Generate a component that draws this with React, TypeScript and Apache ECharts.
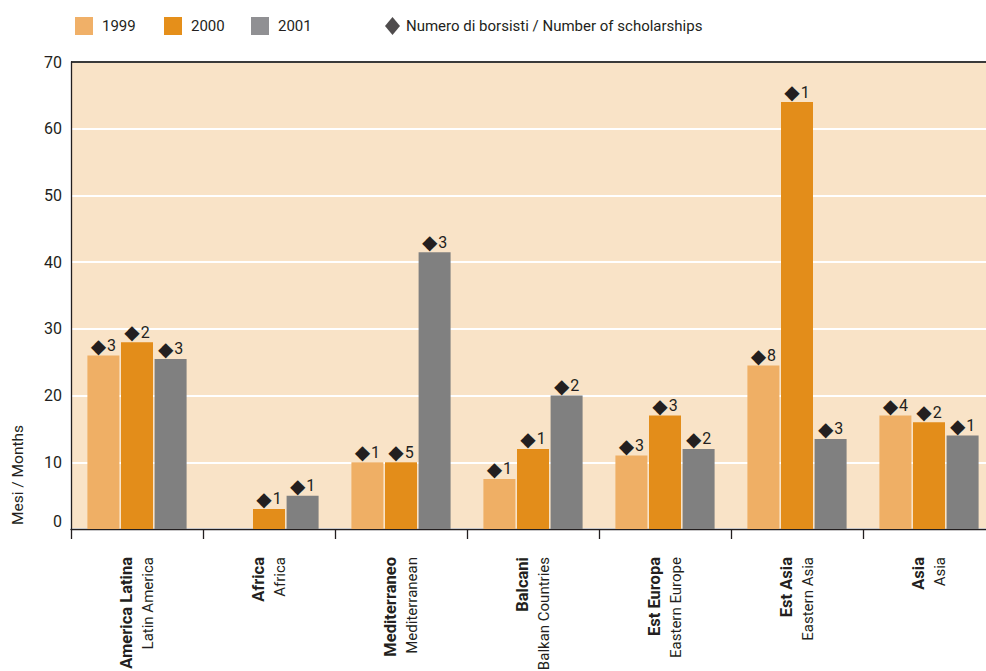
import React, { useEffect, useRef } from "react";
import * as echarts from "echarts";

const categoriesIt = ["America Latina", "Africa", "Mediterraneo", "Balcani", "Est Europa", "Est Asia", "Asia"];
const categoriesEn = ["Latin America", "Africa", "Mediterranean", "Balkan Countries", "Eastern Europe", "Eastern Asia", "Asia"];
const years = ["1999", "2000", "2001"];
const months1999 = [26, null, 10, 7.5, 11, 24.5, 17];
const months2000 = [28, 3, 10, 12, 17, 64, 16];
const months2001 = [25.5, 5, 41.5, 20, 12, 13.5, 14];
const scholars1999 = [3, null, 1, 1, 3, 8, 4];
const scholars2000 = [2, 1, 5, 1, 3, 1, 2];
const scholars2001 = [3, 1, 3, 2, 2, 3, 1];
const yMin = 0;
const yMax = 70;
const yInterval = 10;
const scholarsLegend = "Numero di borsisti / Number of scholarships";
const yAxisName = "Mesi / Months";

const FONT = "Roboto, 'DejaVu Sans', sans-serif";
const TEXT = "#231F20";
const colors = ["#EFAF65", "#E38D1A", "#808080"];
const legendColors = ["#F0B068", "#E58F1A", "#909093"];

export default function App() {
  const ref = useRef<HTMLDivElement>(null);

  useEffect(() => {
    if (!ref.current) return;
    const chart = echarts.init(ref.current, null, { renderer: "svg" });
    const months = [months1999, months2000, months2001];
    const scholars = [scholars1999, scholars2000, scholars2001];
    const cats = categoriesIt.map((c, i) => c + "\n" + categoriesEn[i]);

    const barSeries = years.map((y, si) => ({
      name: y,
      type: "bar",
      data: months[si],
      barWidth: 32,
      barGap: "5%",
      itemStyle: { color: colors[si] },
      label: {
        show: true,
        position: "top",
        distance: 0,
        formatter: (p: any) => {
          const s = scholars[si][p.dataIndex];
          return s == null ? "" : `{d|◆}{n|${s}}`;
        },
        rich: {
          d: { fontSize: 20, color: TEXT, fontFamily: "'DejaVu Sans', sans-serif" },
          n: { fontSize: 16, color: TEXT, fontFamily: FONT, padding: [0, 0, 0, 1] },
        },
      },
    }));

    const legendLefts = [75, 164, 251];
    const legends: any[] = years.map((y, i) => ({
      data: [{ name: y, itemStyle: { color: legendColors[i] } }],
      left: legendLefts[i],
      top: 17,
      itemWidth: 18,
      itemHeight: 18,
      icon: "rect",
      selectedMode: false,
      padding: 0,
      textStyle: { fontSize: 15, color: TEXT, fontFamily: FONT, padding: [0, 0, 0, 4] },
    }));
    legends.push({
      data: [{ name: scholarsLegend, icon: "diamond", itemStyle: { color: TEXT } }],
      left: 385,
      top: 17,
      itemWidth: 15,
      itemHeight: 18,
      selectedMode: false,
      padding: 0,
      textStyle: { fontSize: 15, color: TEXT, fontFamily: FONT, padding: [0, 0, 0, 1] },
    });

    const splitColors: string[] = [];
    for (let v = yMin; v <= yMax; v += yInterval) splitColors.push(v === yMax ? "#3A3A3A" : "#FFFFFF");

    chart.setOption({
      animation: false,
      textStyle: { fontFamily: FONT },
      legend: legends,
      grid: {
        left: 71,
        top: 62,
        right: 5,
        bottom: 171,
        show: true,
        backgroundColor: "#F9E3C7",
        borderWidth: 0,
        containLabel: false,
        outerBoundsMode: "none",
      },
      xAxis: {
        type: "category",
        data: cats,
        axisLine: { show: true, lineStyle: { color: TEXT, width: 1.3 } },
        axisTick: { show: true, length: 10, lineStyle: { color: TEXT, width: 1.3 } },
        axisLabel: {
          interval: 0,
          rotate: 90,
          margin: 28,
          formatter: (v: string) => {
            const [a, b] = v.split("\n");
            return `{b|${a}}\n{r|${b}}`;
          },
          rich: {
            b: { fontSize: 16.5, fontWeight: "bold", color: TEXT, fontFamily: FONT, lineHeight: 21, align: "right" },
            r: { fontSize: 15, color: TEXT, fontFamily: FONT, lineHeight: 21, align: "right" },
          },
        },
      },
      yAxis: {
        type: "value",
        min: yMin,
        max: yMax,
        interval: yInterval,
        axisLine: { show: true, lineStyle: { color: TEXT, width: 1.3 } },
        axisTick: { show: false },
        axisLabel: {
          margin: 9,
          fontSize: 16,
          color: TEXT,
          fontFamily: FONT,
          formatter: (v: number) => (v === 0 ? "{z|0}" : String(v)),
          rich: { z: { fontSize: 16, color: TEXT, fontFamily: FONT, padding: [0, 0, 16, 0] } },
        },
        splitLine: { show: true, lineStyle: { color: splitColors, width: 2 } },
      },
      graphic: [
        {
          type: "text",
          x: 18,
          y: 475,
          rotation: Math.PI / 2,
          style: {
            text: yAxisName,
            fill: TEXT,
            fontSize: 15.5,
            fontFamily: FONT,
            align: "center",
            verticalAlign: "middle",
          },
        },
      ],
      series: [
        ...barSeries,
        { name: scholarsLegend, type: "scatter", data: [], symbol: "diamond", itemStyle: { color: TEXT } },
      ],
    });
    return () => chart.dispose();
  }, []);

  return (
    <div style={{ position: "fixed", left: 0, top: 0, width: 986, height: 671, background: "#fff", overflow: "hidden" }}>
      <div ref={ref} style={{ position: "absolute", left: 0, top: 0, width: 1000, height: 700 }} />
    </div>
  );
}
